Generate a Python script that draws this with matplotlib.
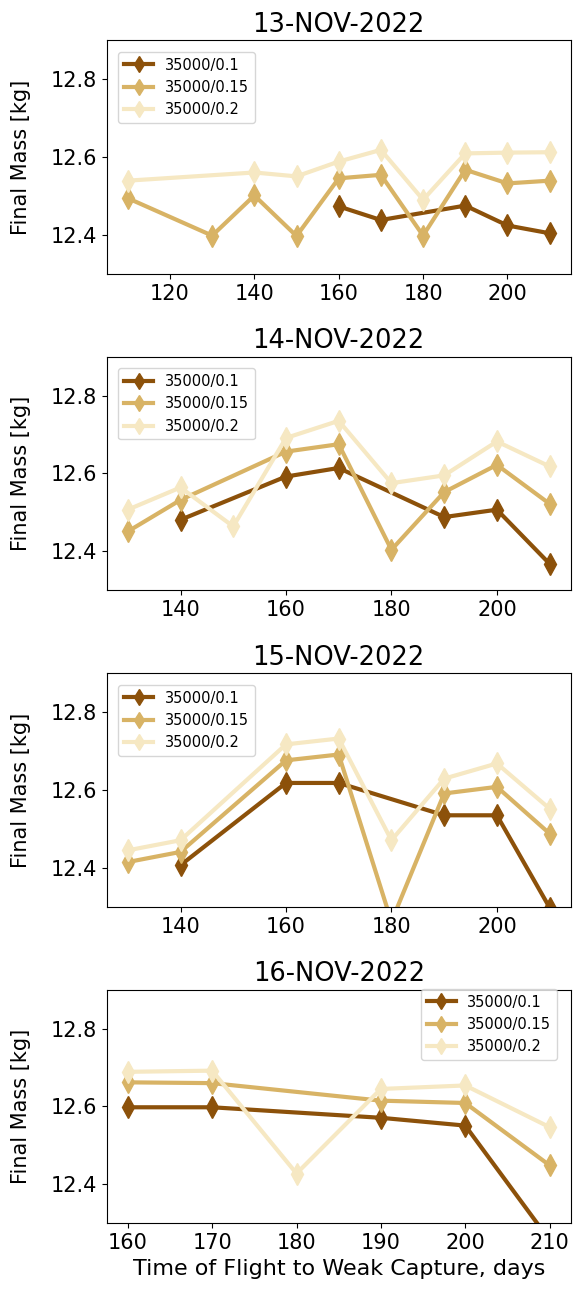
import numpy as np
import matplotlib
matplotlib.use("Agg")
import matplotlib.pyplot as plt

titles = ["13-NOV-2022", "14-NOV-2022", "15-NOV-2022", "16-NOV-2022"]
labels = ["35000/0.1", "35000/0.15", "35000/0.2"]
colors = ["#8c510a", "#d8b365", "#f6e8c3"]

# 13-NOV-2022
d1_x_01 = [160, 170, 190, 200, 210]
d1_y_01 = [12.473, 12.438, 12.475, 12.424, 12.404]
d1_x_015 = [110, 130, 140, 150, 160, 170, 180, 190, 200, 210]
d1_y_015 = [12.494, 12.398, 12.501, 12.397, 12.545, 12.554, 12.398, 12.567, 12.532, 12.539]
d1_x_02 = [110, 140, 150, 160, 170, 180, 190, 200, 210]
d1_y_02 = [12.539, 12.560, 12.550, 12.588, 12.618, 12.490, 12.609, 12.611, 12.612]

# 14-NOV-2022
d2_x_01 = [140, 160, 170, 190, 200, 210]
d2_y_01 = [12.481, 12.592, 12.614, 12.488, 12.507, 12.368]
d2_x_015 = [130, 140, 160, 170, 180, 190, 200, 210]
d2_y_015 = [12.451, 12.532, 12.656, 12.675, 12.404, 12.552, 12.622, 12.522]
d2_x_02 = [130, 140, 150, 160, 170, 180, 190, 200, 210]
d2_y_02 = [12.507, 12.564, 12.464, 12.691, 12.735, 12.575, 12.595, 12.682, 12.618]

# 15-NOV-2022
d3_x_01 = [140, 160, 170, 190, 200, 210]
d3_y_01 = [12.407, 12.618, 12.618, 12.535, 12.535, 12.298]
d3_x_015 = [130, 140, 160, 170, 180, 190, 200, 210]
d3_y_015 = [12.415, 12.441, 12.676, 12.691, 12.262, 12.591, 12.608, 12.488]
d3_x_02 = [130, 140, 160, 170, 180, 190, 200, 210]
d3_y_02 = [12.445, 12.471, 12.717, 12.732, 12.471, 12.629, 12.668, 12.552]

# 16-NOV-2022
d4_x_01 = [160, 170, 190, 200, 210]
d4_y_01 = [12.598, 12.598, 12.571, 12.551, 12.257]
d4_x_015 = [160, 170, 190, 200, 210]
d4_y_015 = [12.662, 12.660, 12.615, 12.609, 12.449]
d4_x_02 = [160, 170, 180, 190, 200, 210]
d4_y_02 = [12.689, 12.692, 12.428, 12.645, 12.654, 12.547]

panels = [
    [(d1_x_01, d1_y_01), (d1_x_015, d1_y_015), (d1_x_02, d1_y_02)],
    [(d2_x_01, d2_y_01), (d2_x_015, d2_y_015), (d2_x_02, d2_y_02)],
    [(d3_x_01, d3_y_01), (d3_x_015, d3_y_015), (d3_x_02, d3_y_02)],
    [(d4_x_01, d4_y_01), (d4_x_015, d4_y_015), (d4_x_02, d4_y_02)],
]
yticks = [12.4, 12.6, 12.8]

fig, axes = plt.subplots(4, 1, figsize=(5.73, 12.95), dpi=100)
fig.subplots_adjust(left=0.1862, right=0.996, top=0.9691, bottom=0.0553, hspace=0.354)

for i, ax in enumerate(axes):
    for (xs, ys), lab, c in zip(panels[i], labels, colors):
        ax.plot(xs, ys, marker="d", markersize=11, linewidth=3, color=c, label=lab)
    ax.set_ylim(12.3, 12.9)
    ax.set_yticks(yticks)
    ax.tick_params(labelsize=15)
    ax.set_ylabel("Final Mass [kg]", fontsize=15, labelpad=14)
    ax.set_title(titles[i], fontsize=18.5)
    if i < 3:
        ax.legend(loc="upper left", fontsize=10.5, borderaxespad=0.8, markerscale=0.75)
    else:
        ax.legend(loc="upper right", fontsize=10.5, borderaxespad=0, markerscale=0.75,
                  bbox_to_anchor=(0.971, 1.004))

axes[-1].set_xlabel("Time of Flight to Weak Capture, days", fontsize=16)

fig.savefig("out.png", dpi=100)
